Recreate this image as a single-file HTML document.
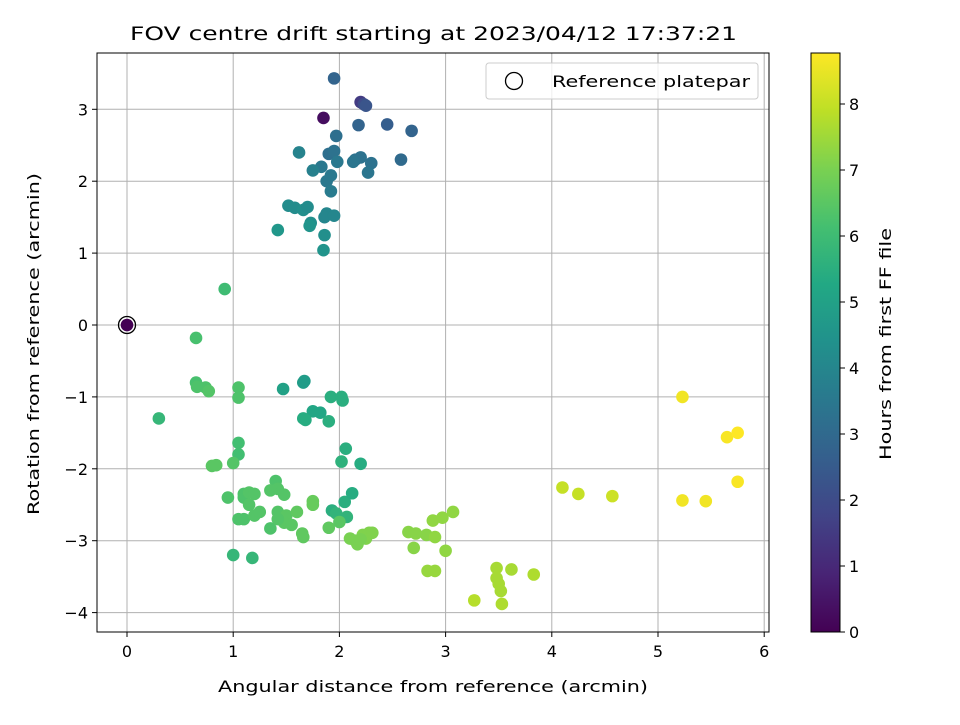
<!DOCTYPE html>
<html><head><meta charset="utf-8"><style>
body{margin:0;background:#fff}
svg text{font-family:"DejaVu Sans","Liberation Sans",sans-serif;fill:#000}
</style></head><body>
<svg id="chart" width="960" height="720" xmlns="http://www.w3.org/2000/svg">
<defs><linearGradient id="vir" x1="0" y1="1" x2="0" y2="0">
<stop offset="0" stop-color="#440154"/><stop offset="0.1" stop-color="#482475"/><stop offset="0.2" stop-color="#414487"/><stop offset="0.3" stop-color="#355f8d"/><stop offset="0.4" stop-color="#2a788e"/><stop offset="0.5" stop-color="#21918c"/><stop offset="0.6" stop-color="#22a884"/><stop offset="0.7" stop-color="#44bf70"/><stop offset="0.8" stop-color="#7ad151"/><stop offset="0.9" stop-color="#bddf26"/><stop offset="1" stop-color="#fde725"/></linearGradient></defs>
<text x="130" y="40" font-size="19" textLength="607" lengthAdjust="spacingAndGlyphs">FOV centre drift starting at 2023/04/12 17:37:21</text>
<g id="grid"></g>
<g id="marks"></g>
<rect x="97" y="53" width="672" height="579" fill="none" stroke="#000" stroke-width="1"/>
<g id="axes"></g>
<text x="218" y="692" font-size="16" textLength="430" lengthAdjust="spacingAndGlyphs">Angular distance from reference (arcmin)</text>
<text transform="translate(39,515) rotate(-90)" font-size="16" textLength="342" lengthAdjust="spacingAndGlyphs">Rotation from reference (arcmin)</text>
<g>
<rect x="486" y="63" width="272" height="36" rx="3" fill="#fff" fill-opacity="0.8" stroke="#ccc"/>
<circle cx="514" cy="81" r="8.5" fill="none" stroke="#000" stroke-width="1.3"/>
<text x="552" y="87" font-size="16" textLength="198" lengthAdjust="spacingAndGlyphs">Reference platepar</text>
</g>
<rect x="811" y="53" width="29" height="579" fill="url(#vir)" stroke="#000" stroke-width="1"/>
<g id="cbticks"></g>
<text transform="translate(891,460) rotate(-90)" font-size="16" textLength="232" lengthAdjust="spacingAndGlyphs">Hours from first FF file</text>
</svg>
<script>
const xs=[1.85,2.2,2.23,2.25,1.95,2.45,2.68,2.18,1.97,1.62,1.9,1.95,1.98,2.58,2.15,2.2,2.3,2.27,1.83,1.88,1.92,1.92,1.75,2.13,1.52,1.58,1.66,1.7,1.88,1.86,1.95,1.73,1.72,1.42,1.86,1.85,0.92,0.65,0.3,0.65,0.66,0.74,0.77,1.05,1.05,1.47,1.66,1.67,1.75,1.82,1.66,1.68,1.92,2.02,2.03,1.9,2.06,2.02,2.2,1.05,1.05,0.8,0.84,1.0,2.05,2.12,1.93,1.97,2.07,2.0,1.0,1.18,0.95,1.1,1.1,1.15,1.2,1.05,1.1,1.2,1.25,1.15,1.4,1.42,1.48,1.42,1.5,1.48,1.55,1.6,1.65,1.66,1.35,1.35,1.42,1.75,1.75,1.9,2.1,2.15,2.17,2.22,2.25,2.28,2.31,2.2,2.65,2.7,2.72,2.82,2.9,2.88,2.97,3.07,3.0,2.83,2.9,3.27,3.48,3.48,3.5,3.52,3.53,3.62,3.83,4.1,4.25,4.57,5.23,5.23,5.45,5.65,5.75,5.75,0];
const ys=[2.88,3.1,3.07,3.05,3.43,2.79,2.7,2.78,2.63,2.4,2.38,2.42,2.27,2.3,2.3,2.33,2.25,2.12,2.2,2.0,2.08,1.86,2.15,2.27,1.66,1.63,1.6,1.64,1.55,1.5,1.52,1.42,1.38,1.32,1.25,1.04,0.5,-0.18,-1.3,-0.8,-0.86,-0.87,-0.92,-0.87,-1.01,-0.89,-0.8,-0.78,-1.2,-1.22,-1.3,-1.32,-1.0,-1.0,-1.05,-1.34,-1.72,-1.9,-1.93,-1.64,-1.8,-1.96,-1.95,-1.92,-2.46,-2.34,-2.58,-2.62,-2.67,-2.74,-3.2,-3.24,-2.4,-2.4,-2.35,-2.33,-2.35,-2.7,-2.7,-2.65,-2.6,-2.5,-2.17,-2.28,-2.36,-2.6,-2.65,-2.75,-2.78,-2.6,-2.9,-2.95,-2.3,-2.83,-2.7,-2.45,-2.5,-2.82,-2.97,-3.0,-3.05,-2.92,-2.97,-2.89,-2.89,-2.98,-2.88,-3.1,-2.9,-2.92,-2.95,-2.72,-2.68,-2.6,-3.14,-3.42,-3.42,-3.83,-3.38,-3.52,-3.6,-3.7,-3.88,-3.4,-3.47,-2.26,-2.35,-2.38,-1.0,-2.44,-2.45,-1.56,-1.5,-2.18,0];
const hours=[0.3,1.5,2.0,2.3,2.8,2.6,2.8,2.8,3.2,3.9,3.2,3.3,3.5,3.0,3.3,3.3,3.3,3.4,3.5,3.5,3.5,3.6,3.8,3.4,4.2,4.2,4.3,4.2,4.0,4.0,4.0,4.3,4.5,4.6,4.3,4.5,6.0,6.2,5.8,6.2,6.3,6.3,6.4,6.3,6.3,5.0,4.8,4.8,5.2,5.2,5.4,5.4,5.5,5.5,5.5,5.5,5.5,5.6,5.4,6.1,6.1,6.5,6.5,6.4,5.5,5.4,5.5,5.7,5.7,6.5,5.8,5.8,6.3,6.3,6.3,6.4,6.4,6.3,6.3,6.4,6.4,6.4,6.3,6.4,6.4,6.4,6.5,6.5,6.5,6.6,6.6,6.6,6.4,6.3,6.4,6.7,6.7,6.6,7.0,7.0,7.0,7.1,7.1,7.1,7.1,7.0,7.2,7.2,7.2,7.2,7.3,7.3,7.3,7.3,7.3,7.4,7.4,7.8,7.6,7.6,7.6,7.6,7.7,7.6,7.7,8.0,8.0,8.1,8.6,8.6,8.6,8.7,8.8,8.7,0];
const xTicks=[0,1,2,3,4,5,6];
const yTicks=[-4,-3,-2,-1,0,1,2,3];
const cTicks=[0,1,2,3,4,5,6,7,8];
const NS="http://www.w3.org/2000/svg";
const X=v=>127+v*106.2, Y=v=>325-v*71.9, C=v=>632-v*66;
const vir=["#440154","#482475","#414487","#355f8d","#2a788e","#21918c","#22a884","#44bf70","#7ad151","#bddf26","#fde725"];
function col(h){let t=Math.max(0,Math.min(1,h/8.77))*(vir.length-1);let i=Math.min(Math.floor(t),vir.length-2),f=t-i;
const a=parseInt(vir[i].slice(1),16),b=parseInt(vir[i+1].slice(1),16);
const c=[16,8,0].map(s=>Math.round(((a>>s)&255)*(1-f)+((b>>s)&255)*f));return `rgb(${c})`;}
function el(t,a,p){const e=document.createElementNS(NS,t);for(const k in a)e.setAttribute(k,a[k]);p.appendChild(e);return e;}
const g=document.getElementById('grid'),ax=document.getElementById('axes'),m=document.getElementById('marks'),cb=document.getElementById('cbticks');
xTicks.forEach(v=>{const l=el('line',{x1:X(v),x2:X(v),y1:53,y2:632,stroke:'#b0b0b0','stroke-width':1},g);


el('line',{x1:X(v),x2:X(v),y1:632,y2:637,stroke:'#000'},ax);
const t=el('text',{x:X(v),y:657,'font-size':16,'text-anchor':'middle'},ax);t.textContent=v;

});
yTicks.forEach(v=>{const l=el('line',{x1:97,x2:769,y1:Y(v),y2:Y(v),stroke:'#b0b0b0','stroke-width':1},g);


el('line',{x1:92,x2:97,y1:Y(v),y2:Y(v),stroke:'#000'},ax);
const t=el('text',{x:88,y:Y(v)+6,'font-size':16,'text-anchor':'end'},ax);t.textContent=v<0?'\u2212'+(-v):v;

});
cTicks.forEach(v=>{el('line',{x1:840,x2:845,y1:C(v),y2:C(v),stroke:'#000'},cb);
const t=el('text',{x:849,y:C(v)+6,'font-size':16},cb);t.textContent=v;

});
xs.forEach((x,i)=>{const c=el('circle',{cx:X(x),cy:Y(ys[i]),r:6.3,fill:col(hours[i])},m);

});
const r=el('circle',{cx:X(0),cy:Y(0),r:8.5,fill:'none',stroke:'#000','stroke-width':1.3},m);


</script>
</body></html>
